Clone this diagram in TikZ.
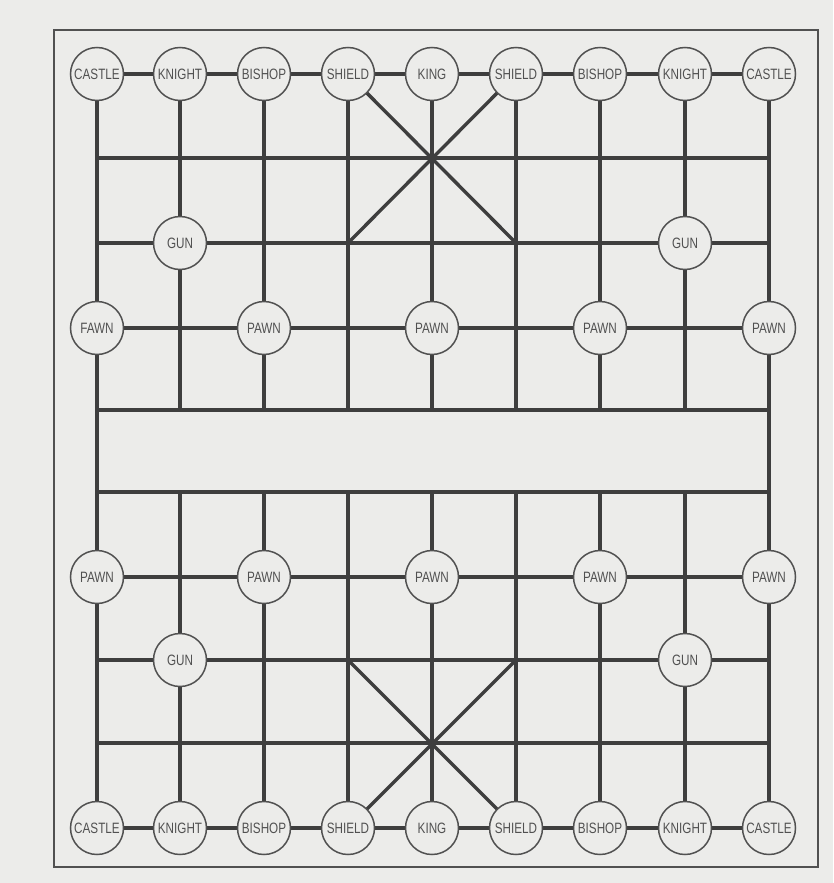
\documentclass[tikz,border=0pt]{standalone}
\usepackage{fontspec}
\newfontfamily\piecefont[FakeStretch=0.78]{Liberation Sans}
\definecolor{paper}{RGB}{236,236,234}
\definecolor{ink}{RGB}{62,62,62}
\tikzset{
  gridline/.style={draw=ink, line width=4.2pt},
  palace/.style={draw=ink, line width=3.4pt},
  piece/.style={circle, draw=ink!90, line width=1.5pt, fill=paper, minimum size=53pt, inner sep=0pt,
    font=\piecefont\fontsize{15}{16}\selectfont, text=ink!90},
  frame/.style={draw=ink!90, line width=1.6pt}
}
\begin{document}
\begin{tikzpicture}[x=1pt,y=-1pt]
\fill[paper] (0,0) rectangle (833,883);
\useasboundingbox (0,0) rectangle (833,883);
\draw[frame] (54,30) rectangle (818,867);
% grid coordinates
\foreach \c/\x in {0/97,1/180,2/264,3/348,4/432,5/516,6/600,7/685,8/769}{
  \foreach \r/\y in {0/74,1/158,2/243,3/328,4/410,5/492,6/577,7/660,8/743,9/828}{
    \coordinate (g-\c-\r) at (\x,\y);
  }
}
% horizontal lines
\foreach \r in {0,...,9}{ \draw[gridline] (g-0-\r) -- (g-8-\r); }
% vertical lines
\draw[gridline] (g-0-0) -- (g-0-9);
\draw[gridline] (g-8-0) -- (g-8-9);
\foreach \c in {1,...,7}{
  \draw[gridline] (g-\c-0) -- (g-\c-4);
  \draw[gridline] (g-\c-5) -- (g-\c-9);
}
% palace diagonals
\draw[palace] (g-3-0) -- (g-5-2);
\draw[palace] (g-5-0) -- (g-3-2);
\draw[palace] (g-3-7) -- (g-5-9);
\draw[palace] (g-5-7) -- (g-3-9);
% pieces
\foreach \c/\n in {0/CASTLE,1/KNIGHT,2/BISHOP,3/SHIELD,4/KING,5/SHIELD,6/BISHOP,7/KNIGHT,8/CASTLE}{
  \node[piece] (top-\c) at (g-\c-0) {\n};
  \node[piece] (bot-\c) at (g-\c-9) {\n};
}
\node[piece] (gun-tl) at (g-1-2) {GUN};
\node[piece] (gun-tr) at (g-7-2) {GUN};
\node[piece] (gun-bl) at (g-1-7) {GUN};
\node[piece] (gun-br) at (g-7-7) {GUN};
\node[piece] (pawn-t0) at (g-0-3) {FAWN};
\foreach \c in {2,4,6,8}{ \node[piece] (pawn-t\c) at (g-\c-3) {PAWN}; }
\foreach \c in {0,2,4,6,8}{ \node[piece] (pawn-b\c) at (g-\c-6) {PAWN}; }
\end{tikzpicture}
\end{document}
